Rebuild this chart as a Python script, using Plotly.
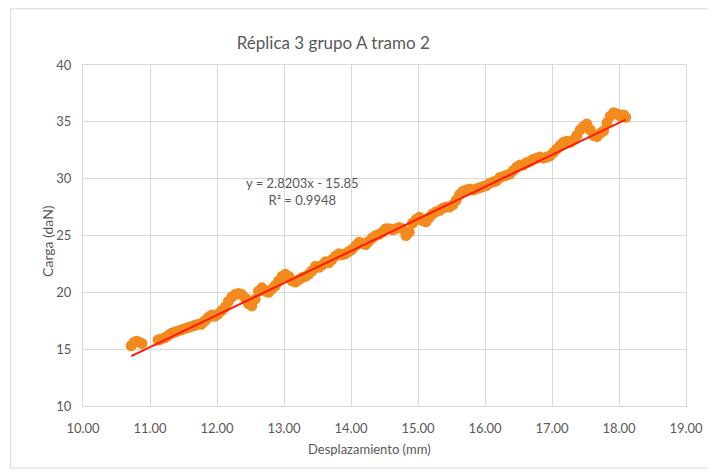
import plotly.graph_objects as go

# datos (desplazamiento en mm, carga en daN)
desplazamiento = [
    10.72, 10.76, 10.80, 10.84, 10.88,
    11.12, 11.17, 11.22, 11.27, 11.32, 11.37, 11.42, 11.47, 11.52, 11.57,
    11.62, 11.67, 11.72, 11.77, 11.82, 11.87, 11.92, 11.97, 12.02, 12.07,
    12.12, 12.17, 12.22, 12.27, 12.32, 12.37, 12.42, 12.47, 12.52, 12.57,
    12.62, 12.67, 12.72, 12.77, 12.82, 12.87, 12.92, 12.97, 13.02, 13.07,
    13.12, 13.17, 13.22, 13.27, 13.32, 13.37, 13.42, 13.47, 13.52, 13.57,
    13.62, 13.67, 13.72, 13.77, 13.82, 13.87, 13.92, 13.97, 14.02, 14.07,
    14.12, 14.17, 14.22, 14.27, 14.32, 14.37, 14.42, 14.47, 14.52, 14.57,
    14.62, 14.67, 14.72, 14.77, 14.82, 14.87, 14.92, 14.97, 15.02, 15.07,
    15.12, 15.17, 15.22, 15.27, 15.32, 15.37, 15.42, 15.47, 15.52, 15.57,
    15.62, 15.67, 15.72, 15.77, 15.82, 15.87, 15.92, 15.97, 16.02, 16.07,
    16.12, 16.17, 16.22, 16.27, 16.32, 16.37, 16.42, 16.47, 16.52, 16.57,
    16.62, 16.67, 16.72, 16.77, 16.82, 16.87, 16.92, 16.97, 17.02, 17.07,
    17.12, 17.17, 17.22, 17.27, 17.32, 17.37, 17.42, 17.47, 17.52, 17.57,
    17.62, 17.67, 17.72, 17.77, 17.82, 17.87, 17.92, 17.97, 18.02, 18.07,
    18.10,
]
carga = [
    15.3, 15.6, 15.7, 15.6, 15.5,
    15.8, 15.9, 16.0, 16.2, 16.4, 16.5, 16.6, 16.7, 16.8, 16.9,
    17.0, 17.1, 17.2, 17.2, 17.5, 17.8, 18.0, 17.9, 18.1, 18.4,
    18.7, 19.2, 19.6, 19.8, 19.9, 19.8, 19.5, 19.0, 18.8, 19.4,
    20.1, 20.4, 20.1, 20.0, 20.3, 20.6, 21.0, 21.4, 21.6, 21.4,
    21.0, 20.9, 21.1, 21.3, 21.4, 21.6, 21.9, 22.3, 22.2, 22.4,
    22.7, 22.6, 22.9, 23.2, 23.4, 23.3, 23.4, 23.6, 23.8, 24.1,
    24.4, 24.3, 24.2, 24.5, 24.8, 25.0, 25.1, 25.3, 25.6, 25.6,
    25.5, 25.6, 25.7, 25.6, 25.0, 25.3, 26.1, 26.4, 26.6, 26.3,
    26.2, 26.6, 26.9, 27.1, 27.2, 27.4, 27.5, 27.5, 27.7, 28.1,
    28.6, 28.9, 29.0, 29.1, 29.0, 29.1, 29.2, 29.3, 29.4, 29.6,
    29.7, 29.8, 30.1, 30.2, 30.3, 30.4, 30.7, 31.0, 31.2, 31.2,
    31.4, 31.5, 31.7, 31.8, 31.9, 31.8, 31.9, 32.0, 32.3, 32.6,
    32.9, 33.2, 33.3, 33.2, 33.4, 33.8, 34.3, 34.6, 34.8, 34.3,
    33.8, 33.7, 34.0, 34.2, 34.9, 35.5, 35.8, 35.7, 35.5, 35.6,
    35.4,
]

# linea de tendencia (Excel)
pendiente = 2.8203
ordenada = -15.85

x_ticks = [10, 11, 12, 13, 14, 15, 16, 17, 18, 19]
x_labels = ["10.00", "11.00", "12.00", "13.00", "14.00",
            "15.00", "16.00", "17.00", "18.00", "19.00"]
y_ticks = [10, 15, 20, 25, 30, 35, 40]

gris = "#595959"
rejilla = "#D9D9D9"

fig = go.Figure()
fig.add_trace(go.Scatter(
    x=desplazamiento, y=carga, mode="markers",
    marker=dict(color="#F28A1E", size=11, line=dict(width=0)),
    showlegend=False,
))
x_tend = [min(desplazamiento), max(desplazamiento)]
fig.add_trace(go.Scatter(
    x=x_tend, y=[pendiente * v + ordenada for v in x_tend], mode="lines",
    line=dict(color="#FF1A00", width=2), showlegend=False,
))

fig.update_xaxes(
    range=[10, 19], tickvals=x_ticks, ticktext=x_labels,
    showgrid=True, gridcolor=rejilla, gridwidth=1,
    showline=True, linecolor=rejilla, mirror=True,
    zeroline=False, ticks="", ticklabelstandoff=10,
    tickfont=dict(size=13, color=gris),
)
fig.update_yaxes(
    range=[10, 40], tickvals=y_ticks,
    showgrid=True, gridcolor=rejilla, gridwidth=1,
    showline=True, linecolor=rejilla, mirror=True,
    zeroline=False, ticks="", ticklabelstandoff=8,
    tickfont=dict(size=13, color=gris),
)

fig.update_layout(
    width=707, height=464,
    margin=dict(l=75, r=23, t=57, b=66),
    paper_bgcolor="white", plot_bgcolor="white",
    font=dict(family="Lato, Open Sans, sans-serif", color=gris),
    title=dict(text="Réplica 3 grupo A tramo 2", x=0.415, xref="paper",
               xanchor="center", y=0.9246, yanchor="middle",
               font=dict(size=17, color=gris)),
    shapes=[dict(type="rect", xref="paper", yref="paper",
                 x0=-0.12, x1=1.036, y0=-0.182, y1=1.165,
                 line=dict(color=rejilla, width=1), layer="below")],
    annotations=[
        dict(text="y = 2.8203x - 15.85<br>R² = 0.9948",
             x=(305 - 83) / 609, y=(406 - 172.5) / 341,
             xref="paper", yref="paper", showarrow=False,
             font=dict(size=13, color=gris), align="center"),
        dict(text="Desplazamiento (mm)", x=0.4745, y=-0.126, xref="paper",
             yref="paper", showarrow=False, yanchor="middle",
             font=dict(size=13, color=gris)),
        dict(text="Carga (daN)", x=-0.0755, y=0.484, xref="paper",
             yref="paper", showarrow=False, textangle=-90,
             font=dict(size=14, color=gris)),
    ],
)

fig.write_html("out.html")
